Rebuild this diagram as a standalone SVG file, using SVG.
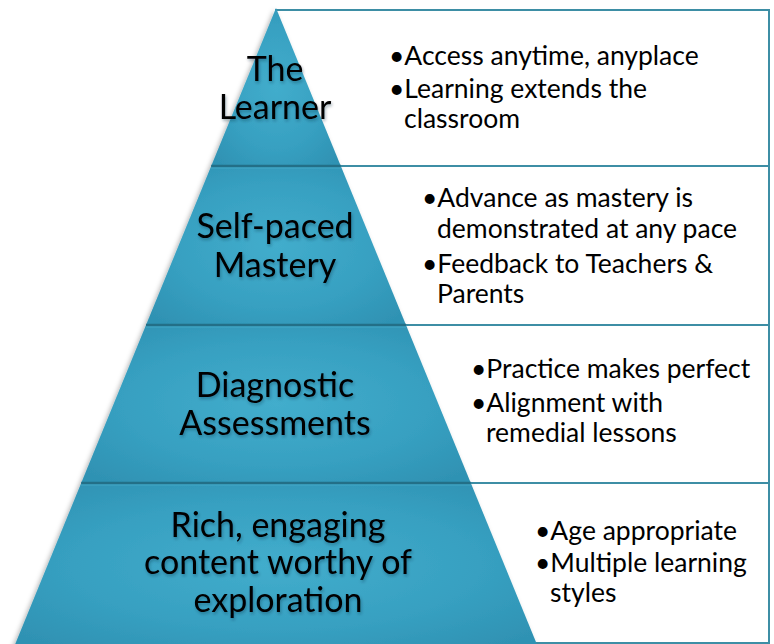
<svg xmlns="http://www.w3.org/2000/svg" width="774" height="644" viewBox="0 0 774 644">
  <defs>
    <radialGradient id="tierFill" cx="0.5" cy="0.5" r="0.65">
      <stop offset="0" stop-color="#42adcc"/>
      <stop offset="0.6" stop-color="#37a0c1"/>
      <stop offset="1" stop-color="#2f92b3"/>
    </radialGradient>
    <filter id="pyrShadow" x="-10%" y="-10%" width="120%" height="120%">
      <feDropShadow dx="-2" dy="2" stdDeviation="2.5" flood-color="#000" flood-opacity="0.3"/>
    </filter>
    <filter id="labelShadow" x="-10%" y="-20%" width="120%" height="140%">
      <feDropShadow dx="1" dy="2" stdDeviation="1.5" flood-color="#0b2f3c" flood-opacity="0.35"/>
    </filter>
  </defs>
  <style>
    .box { fill: #ffffff; stroke: #3d8ea5; stroke-width: 2; }
    .tier { fill: url(#tierFill); }
    .sep { stroke: #236f87; stroke-width: 2.5; }
    .sepHi { stroke: #4fb3d0; stroke-width: 1; opacity: 0.6; }
    .label { font-family: "Lato", "Open Sans", sans-serif; font-size: 34px; fill: #000; text-anchor: middle; }
    .item { font-family: "Lato", "Open Sans", sans-serif; font-size: 26.5px; fill: #000; }
  </style>

  <rect width="774" height="644" fill="#ffffff"/>

  <!-- description boxes behind the pyramid -->
  <g id="boxes">
    <rect class="box" x="276" y="10" width="493" height="156"/>
    <rect class="box" x="276" y="166" width="493" height="159"/>
    <rect class="box" x="276" y="325" width="493" height="158"/>
    <rect class="box" x="276" y="483" width="493" height="160"/>
  </g>

  <!-- pyramid tiers -->
  <g id="pyramid" filter="url(#pyrShadow)">
    <g id="tier-learner">
      <polygon class="tier" points="276,8 340.8,166 211.2,166"/>
    </g>
    <g id="tier-mastery">
      <polygon class="tier" points="211.2,166 340.8,166 406,325 146,325"/>
    </g>
    <g id="tier-assessments">
      <polygon class="tier" points="146,325 406,325 470.8,483 81.2,483"/>
    </g>
    <g id="tier-content">
      <polygon class="tier" points="81.2,483 470.8,483 538,647 14,647"/>
    </g>
  </g>

  <!-- tier separators -->
  <g id="separators">
    <line class="sep" x1="211.2" y1="166" x2="340.8" y2="166"/>
    <line class="sepHi" x1="211" y1="168" x2="341" y2="168"/>
    <line class="sep" x1="146" y1="325" x2="406" y2="325"/>
    <line class="sepHi" x1="146" y1="327" x2="406" y2="327"/>
    <line class="sep" x1="81.2" y1="483" x2="470.8" y2="483"/>
    <line class="sepHi" x1="81" y1="485" x2="471" y2="485"/>
  </g>

  <!-- tier labels -->
  <g id="labels" filter="url(#labelShadow)">
    <text class="label" x="275" y="81">The</text>
    <text class="label" x="275" y="119">Learner</text>
    <text class="label" x="275" y="238">Self-paced</text>
    <text class="label" x="275" y="277">Mastery</text>
    <text class="label" x="275" y="397">Diagnostic</text>
    <text class="label" x="275" y="435">Assessments</text>
    <text class="label" x="278" y="537">Rich, engaging</text>
    <text class="label" x="278" y="574">content worthy of</text>
    <text class="label" x="278" y="612">exploration</text>
  </g>

  <!-- bullet lists (hanging indent on wrapped lines) -->
  <g id="list-learner">
    <text class="item" x="389" y="65">•Access anytime, anyplace</text>
    <text class="item" x="389" y="98">•Learning extends the</text>
    <text class="item" x="404" y="128">classroom</text>
  </g>
  <g id="list-mastery">
    <text class="item" x="422" y="207">•Advance as mastery is</text>
    <text class="item" x="437" y="238">demonstrated at any pace</text>
    <text class="item" x="422" y="273">•Feedback to Teachers &amp;</text>
    <text class="item" x="437" y="303">Parents</text>
  </g>
  <g id="list-assessments">
    <text class="item" x="471" y="378">•Practice makes perfect</text>
    <text class="item" x="471" y="412">•Alignment with</text>
    <text class="item" x="486" y="442">remedial lessons</text>
  </g>
  <g id="list-content">
    <text class="item" x="535" y="540">•Age appropriate</text>
    <text class="item" x="535" y="572">•Multiple learning</text>
    <text class="item" x="550" y="602">styles</text>
  </g>
</svg>
